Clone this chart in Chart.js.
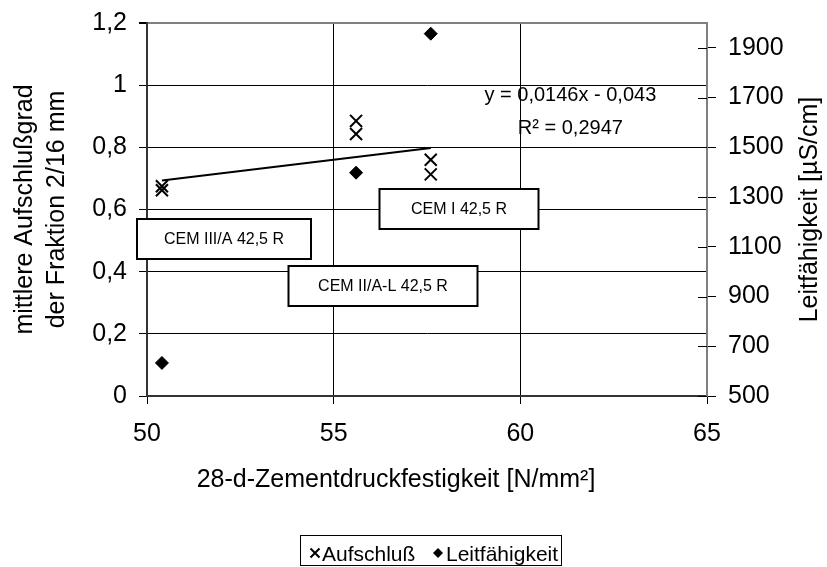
<!DOCTYPE html>
<html>
<head>
<meta charset="utf-8">
<script src="https://cdn.jsdelivr.net/npm/chart.js@4/dist/chart.umd.min.js"></script>
<style>
  body { margin: 0; background: #fff; }
  #wrap { width: 827px; height: 567px; }
</style>
</head>
<body>
<div id="wrap"><canvas id="myChart" width="827" height="567"></canvas></div>
<script>
// values
var aufschlussX = [50.4, 50.4, 55.6, 55.6, 57.6, 57.6];
var aufschlussY = [0.675, 0.662, 0.885, 0.843, 0.76, 0.713];
var leitX = [50.4, 55.6, 57.6];
var leitY = [633, 1398, 1957];
var trendX = [50.4, 57.6];
var trendY = [0.693, 0.798];

var xTicks = [50, 55, 60, 65];
var leftTicks = [0, 0.2, 0.4, 0.6, 0.8, 1, 1.2];
var rightTicks = [500, 700, 900, 1100, 1300, 1500, 1700, 1900];

// text boxes, placed in data units
var boxLabels = ['CEM I 42,5 R', 'CEM III/A 42,5 R', 'CEM II/A-L 42,5 R'];
var boxX = [58.37, 52.05, 56.33];
var boxY = [0.602, 0.504, 0.355];
var boxW = [159, 174, 189];
var eqLines = ['y = 0,0146x - 0,043', 'R\u00b2 = 0,2947'];
var eqX = 61.34;
var eqY = [0.9675, 0.861];

var FONT = '"Liberation Sans", Arial, sans-serif';

function pairs(xs, ys) {
  return xs.map(function (v, i) { return {x: v, y: ys[i]}; });
}
function comma(v) {
  return String(Math.round(v * 10) / 10).replace('.', ',');
}
function noPad(s) {
  s.paddingTop = 0; s.paddingBottom = 0; s.paddingLeft = 0; s.paddingRight = 0;
}

var extras = {
  id: 'extras',
  afterDraw: function (chart) {
    var ctx = chart.ctx, a = chart.chartArea;
    var sx = chart.scales.x, sy = chart.scales.y, sy2 = chart.scales.y2;
    ctx.save();
    // right axis tick marks also reach into the plot
    ctx.strokeStyle = '#000';
    ctx.lineWidth = 1;
    rightTicks.forEach(function (v) {
      var py = Math.round(sy2.getPixelForValue(v)) + 0.5;
      ctx.beginPath();
      ctx.moveTo(a.right - 9, py);
      ctx.lineTo(a.right, py);
      ctx.stroke();
    });
    // cement labels
    ctx.textAlign = 'center';
    ctx.textBaseline = 'middle';
    ctx.font = '16px ' + FONT;
    boxLabels.forEach(function (t, i) {
      var cx = Math.round(sx.getPixelForValue(boxX[i]));
      var cy = Math.round(sy.getPixelForValue(boxY[i]));
      var w = boxW[i], h = 40;
      ctx.fillStyle = '#fff';
      ctx.fillRect(cx - w / 2, cy - h / 2, w, h);
      ctx.lineWidth = 2;
      ctx.strokeStyle = '#000';
      ctx.strokeRect(cx - w / 2, cy - h / 2, w, h);
      ctx.fillStyle = '#000';
      ctx.fillText(t, cx, cy + 1);
    });
    // regression equation
    ctx.font = '20px ' + FONT;
    eqLines.forEach(function (t, i) {
      ctx.fillText(t, sx.getPixelForValue(eqX), sy.getPixelForValue(eqY[i]));
    });
    // x axis title (sits left of the plot centre in the original)
    ctx.font = '25px ' + FONT;
    ctx.textBaseline = 'alphabetic';
    ctx.fillText('28-d-Zementdruckfestigkeit [N/mm\u00b2]', 396, 487);

    // legend with frame
    ctx.strokeStyle = '#000';
    ctx.lineWidth = 1;
    ctx.strokeRect(300.5, 535.5, 261, 30);
    ctx.lineWidth = 2;
    ctx.beginPath();
    ctx.moveTo(310.5, 548.5); ctx.lineTo(319.5, 557.5);
    ctx.moveTo(319.5, 548.5); ctx.lineTo(310.5, 557.5);
    ctx.stroke();
    ctx.fillStyle = '#000';
    ctx.beginPath();
    ctx.moveTo(438, 548); ctx.lineTo(443, 553); ctx.lineTo(438, 558); ctx.lineTo(433, 553);
    ctx.closePath();
    ctx.fill();
    ctx.font = '21px ' + FONT;
    ctx.textAlign = 'left';
    ctx.fillText('Aufschlu\u00df', 322, 561);
    ctx.fillText('Leitf\u00e4higkeit', 446, 561);

    // right axis title, reading upwards
    ctx.textAlign = 'center';
    ctx.textBaseline = 'middle';
    ctx.font = '25px ' + FONT;
    ctx.translate(810, (a.top + a.bottom) / 2);
    ctx.rotate(-Math.PI / 2);
    ctx.fillText('Leitf\u00e4higkeit [\u00b5S/cm]', 0, 0);
    ctx.restore();
  }
};

Chart.defaults.color = '#000';
Chart.defaults.font.family = FONT;

new Chart(document.getElementById('myChart').getContext('2d'), {
  type: 'scatter',
  data: {
    datasets: [
      {
        label: 'Aufschlu\u00df',
        data: pairs(aufschlussX, aufschlussY),
        pointStyle: 'crossRot',
        pointRadius: 8.5,
        borderColor: '#000',
        backgroundColor: '#000',
        borderWidth: 2,
        yAxisID: 'y'
      },
      {
        label: 'Leitf\u00e4higkeit',
        data: pairs(leitX, leitY),
        pointStyle: 'rectRot',
        pointRadius: 6.5,
        borderColor: '#000',
        backgroundColor: '#000',
        borderWidth: 1,
        yAxisID: 'y2'
      },
      {
        label: 'trend',
        data: pairs(trendX, trendY),
        showLine: true,
        pointRadius: 0,
        borderColor: '#000',
        borderWidth: 2,
        yAxisID: 'y'
      }
    ]
  },
  options: {
    responsive: false,
    animation: false,
    layout: {padding: {top: 23, left: 0, right: 0, bottom: 0}},
    plugins: {
      tooltip: {enabled: false},
      legend: {display: false}
    },
    scales: {
      x: {
        type: 'linear',
        min: 50, max: 65,
        afterBuildTicks: function (s) { s.ticks = xTicks.map(function (v) { return {value: v}; }); },
        afterFit: function (s) { s.height = 171; noPad(s); },
        ticks: {font: {size: 25}, padding: 15},
        grid: {
          tickLength: 8,
          tickColor: '#000',
          color: function (c) { return c.tick && c.tick.value === 65 ? 'rgba(0,0,0,0)' : '#000'; }
        },
        border: {color: '#333', width: 2}
      },
      y: {
        position: 'left',
        min: 0, max: 1.2,
        afterBuildTicks: function (s) { s.ticks = leftTicks.map(function (v) { return {value: v}; }); },
        afterFit: function (s) { s.width = 147; noPad(s); },
        ticks: {font: {size: 25}, padding: 12, callback: function (v) { return comma(v); }},
        grid: {
          tickLength: 8,
          tickColor: '#000',
          color: function (c) { return c.tick && c.tick.value === 1.2 ? '#808080' : '#000'; },
          lineWidth: function (c) { return c.tick && c.tick.value === 1.2 ? 2 : 1; }
        },
        border: {color: '#333', width: 2},
        title: {
          display: true,
          text: ['mittlere Aufschlu\u00dfgrad', 'der Fraktion 2/16 mm'],
          font: {size: 25, lineHeight: 1.28},
          padding: {top: 9, bottom: 0}
        }
      },
      y2: {
        position: 'right',
        min: 500, max: 2000,
        afterBuildTicks: function (s) { s.ticks = rightTicks.map(function (v) { return {value: v}; }); },
        afterFit: function (s) { s.width = 120; noPad(s); },
        ticks: {font: {size: 25}, padding: 12, callback: function (v) { return String(v); }},
        grid: {drawOnChartArea: false, tickLength: 9, tickColor: '#000'},
        border: {color: '#808080', width: 2}
      }
    }
  },
  plugins: [extras]
});
</script>
</body>
</html>
